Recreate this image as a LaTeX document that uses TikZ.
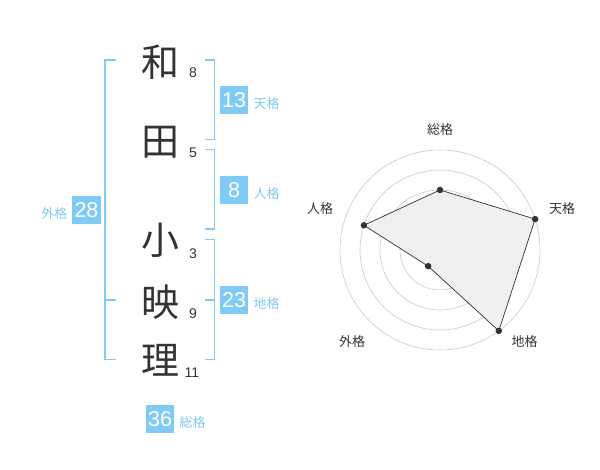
\documentclass[tikz,border=0pt]{standalone}
\usepackage{fontspec}
\setmainfont{Liberation Sans}
\newfontfamily\cjk{Noto Sans CJK JP}
\definecolor{bl}{RGB}{128,202,246}
\definecolor{dk}{RGB}{51,51,51}
\definecolor{gr}{RGB}{200,200,200}
\begin{document}
\begin{tikzpicture}[x=1pt,y=-1pt,
  kanji/.style={font=\cjk\fontsize{38}{38}\selectfont,text=dk,inner sep=0pt},
  strk/.style={font=\fontsize{14}{14}\selectfont,text=dk,inner sep=0pt},
  numbox/.style={fill=bl,text=white,font=\fontsize{21.5}{21.5}\selectfont,minimum width=28.5,minimum height=28.5,inner sep=0pt},
  lab/.style={font=\cjk\fontsize{13}{13}\selectfont,text=bl,inner sep=0pt},
  brk/.style={draw=bl,line width=1.6pt},
  rlab/.style={font=\cjk\fontsize{13}{13}\selectfont,text=dk,inner sep=0pt},
  ring/.style={draw=gr,line width=0.6pt},
  pt/.style={circle,fill=dk,inner sep=0pt,minimum size=6.5pt}]
\useasboundingbox (0,0) rectangle (600,470);
% kanji
\node[kanji] (k1) at (160,62) {和};
\node[kanji] (k2) at (160,142) {田};
\node[kanji] (k3) at (160,240) {小};
\node[kanji] (k4) at (160,302) {映};
\node[kanji] (k5) at (160,360) {理};
\node[strk] (s1) at (193,73) {8};
\node[strk] (s2) at (193,153) {5};
\node[strk] (s3) at (193,253.5) {3};
\node[strk] (s4) at (193,313.5) {9};
\node[strk] (s5) at (192,373) {11};
% brackets
\draw[brk] (116,60) -- (105,60) -- (105,359.5) -- (116,359.5);
\draw[brk] (105,300) -- (116,300);
\draw[brk] (205,60) -- (214.5,60) -- (214.5,139.5) -- (205,139.5);
\draw[brk] (205,149.5) -- (214.5,149.5) -- (214.5,229) -- (205,229);
\draw[brk] (205,239.5) -- (214.5,239.5) -- (214.5,359.5) -- (205,359.5);
\draw[brk] (205,300) -- (214.5,300);
% boxes
\node[numbox] (b1) at (234.2,100.2) {13};
\node[lab,anchor=west] (l1) at (253.5,104) {天格};
\node[numbox] (b2) at (234.2,190.2) {8};
\node[lab,anchor=west] (l2) at (253.5,194) {人格};
\node[numbox] (b3) at (86.5,210.2) {28};
\node[lab,anchor=east] (l3) at (67.5,213.5) {外格};
\node[numbox] (b4) at (234.2,300.2) {23};
\node[lab,anchor=west] (l4) at (253.5,304) {地格};
\node[numbox] (b5) at (160.2,419.2) {36};
\node[lab,anchor=west] (l5) at (179.5,422.5) {総格};
% radar
\coordinate (c) at (440,250);
\foreach \r in {20,40,60,80,100} \draw[ring] (c) circle[radius=\r];
\fill[gr] (c) circle[radius=3.5];
\coordinate (p1) at (440,190);
\coordinate (p2) at (535.1,219.1);
\coordinate (p3) at (498.8,330.9);
\coordinate (p4) at (428.2,266.2);
\coordinate (p5) at (363.9,225.3);
\filldraw[fill=black!6,draw=dk,line width=0.7pt] (p1) -- (p2) -- (p3) -- (p4) -- (p5) -- cycle;
\foreach \p in {p1,p2,p3,p4,p5} \node[pt] at (\p) {};
\node[rlab] (r1) at (440,130) {総格};
\node[rlab] (r2) at (562,208.5) {天格};
\node[rlab] (r3) at (524.5,342) {地格};
\node[rlab] (r4) at (352,342) {外格};
\node[rlab] (r5) at (320,208.5) {人格};
\end{tikzpicture}
\end{document}
